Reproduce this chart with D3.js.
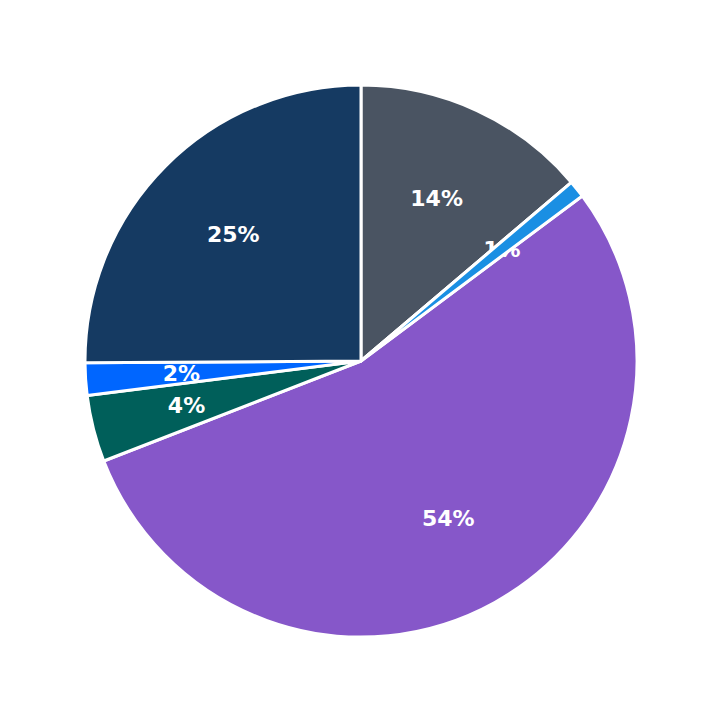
<!DOCTYPE html>
<html>
  <head>
    <meta charset="utf-8" />
    <script src="https://d3js.org/d3.v7.min.js"></script>
    <style>
      body {
        margin: 0px;
        background: #ffffff;
      }
      .slice-label {
        fill: #ffffff;
        font-family: "DejaVu Sans", sans-serif;
        font-weight: bold;
        font-size: 22px;
        text-anchor: middle;
      }
    </style>
  </head>
  <body>
    <svg width="723" height="723"></svg>
    <script>
      // slices, clockwise from 12 o'clock
      const categories = ["A", "B", "C", "D", "E", "F"];
      const values = [13.8, 1.0, 54.3, 3.9, 1.9, 25.1];
      const colors = ["#4a5462", "#1a8fe3", "#8657c9", "#005f5a", "#0066ff", "#153a62"];

      const svg = d3.select("svg");
      const cx = 361;
      const cy = 361;
      const radius = 276;
      const labelRadius = 180;

      const g = svg.append("g").attr("transform", `translate(${cx},${cy})`);

      const pie = d3.pie().sort(null).value((d) => d.value);
      const arcs = pie(categories.map((c, i) => ({ name: c, value: values[i], color: colors[i] })));
      const total = d3.sum(values);

      const arc = d3.arc().innerRadius(0).outerRadius(radius);
      const labelArc = d3.arc().innerRadius(labelRadius).outerRadius(labelRadius);

      const drawSlices = (sel, data) =>
        sel
          .selectAll("path")
          .data(data)
          .enter()
          .append("path")
          .attr("d", arc)
          .attr("fill", (d) => d.data.color)
          .attr("stroke", "#ffffff")
          .attr("stroke-width", 3)
          .attr("stroke-linejoin", "round");

      drawSlices(g.append("g"), arcs);

      g.append("g")
        .selectAll("text")
        .data(arcs)
        .enter()
        .append("text")
        .attr("class", "slice-label")
        .attr("transform", (d) => `translate(${labelArc.centroid(d)})`)
        .attr("dy", "0.36em")
        .text((d) => Math.round((d.data.value / total) * 100) + "%");

      // very thin slices end up drawn over their label
      drawSlices(g.append("g"), arcs.filter((d) => d.data.value / total < 0.015));
    </script>
  </body>
</html>
